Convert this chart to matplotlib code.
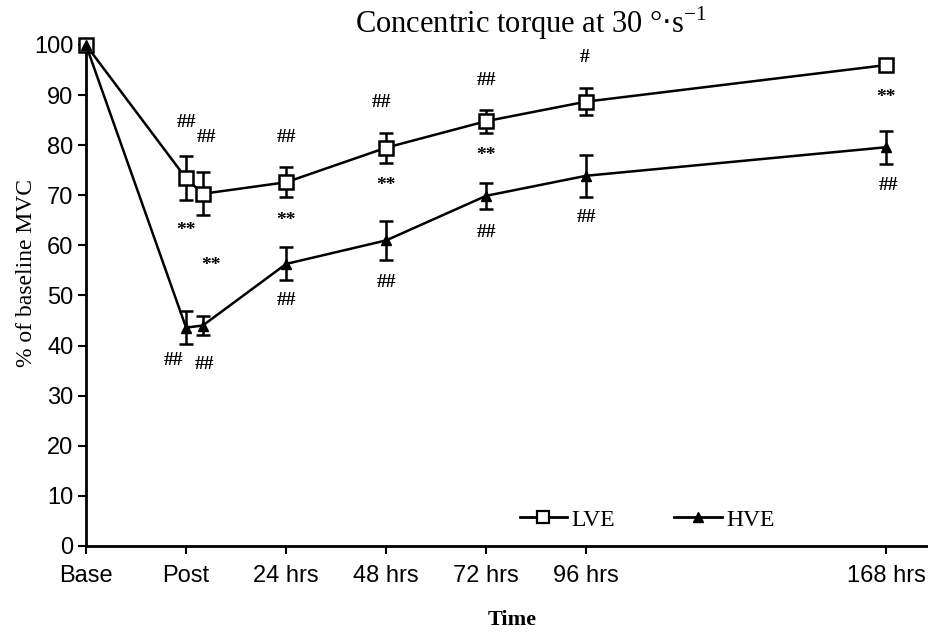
import numpy as np
import matplotlib
matplotlib.use("Agg")
import matplotlib.pyplot as plt
from matplotlib.lines import Line2D

# time points (hours; Base drawn one step before Post)
times = [-24, 0, 4, 24, 48, 72, 96, 168]
tick_pos = [-24, 0, 24, 48, 72, 96, 168]
tick_labels = ["Base", "Post", "24 hrs", "48 hrs", "72 hrs", "96 hrs", "168 hrs"]

# % of baseline MVC
LVE = [100, 73.4, 70.3, 72.6, 79.5, 84.8, 88.7, 96.0]
LVE_err = [0, 4.4, 4.3, 3.0, 3.0, 2.3, 2.7, 1.0]
HVE = [100, 43.6, 44.0, 56.3, 61.0, 69.9, 73.9, 79.6]
HVE_err = [0, 3.3, 1.9, 3.3, 3.9, 2.6, 4.2, 3.3]

# significance marks: (x, y, text)
marks = [
    (0, 84.5, "##"), (5, 81.5, "##"), (24, 81.5, "##"), (47, 88.5, "##"),
    (72, 93, "##"), (95.5, 97.5, "#"),
    (0, 63, "**"), (6, 56, "**"), (24, 65, "**"), (48, 72, "**"),
    (72, 78, "**"), (168, 89.5, "**"),
    (-3, 37, "##"), (4.5, 36.3, "##"), (24, 49, "##"), (48, 52.5, "##"),
    (72, 62.5, "##"), (96, 65.5, "##"), (168.5, 72, "##"),
]

fig = plt.figure(figsize=(9.29, 6.37), dpi=100)
ax = fig.add_axes([86 / 929, 1 - 546 / 637, 1 - 86 / 929 - 0.001, (546 - 45) / 637])

ax.errorbar(times, LVE, yerr=LVE_err, color="black", lw=1.8, marker="s",
            ms=10, mfc="white", mec="black", mew=1.8, capsize=5, elinewidth=1.8,
            capthick=1.8, clip_on=False, zorder=3)
ax.errorbar(times, HVE, yerr=HVE_err, color="black", lw=1.8, marker="^",
            ms=7, mfc="black", mec="black", capsize=5, elinewidth=1.8,
            capthick=1.8, clip_on=False, zorder=3)

for x, y, t in marks:
    ax.text(x, y, t, ha="center", va="center", fontsize=14,
            family="Liberation Serif", fontweight="bold")

ax.set_xlim(-24, 178)
ax.set_ylim(0, 100)
ax.set_yticks(np.arange(0, 101, 10))
ax.set_xticks(tick_pos)
ax.set_xticklabels(tick_labels)
for lab in ax.get_xticklabels() + ax.get_yticklabels():
    lab.set_family("Liberation Sans")
    lab.set_fontsize(17)
ax.tick_params(axis="both", direction="out", length=6, width=1.5, pad=3)
ax.tick_params(axis="x", pad=8)
ax.spines["top"].set_visible(False)
ax.spines["right"].set_visible(False)
ax.spines["left"].set_linewidth(2)
ax.spines["bottom"].set_linewidth(2)

ax.set_ylabel("% of baseline MVC", family="Liberation Serif", fontsize=17)
ax.yaxis.set_label_coords(-0.058, 0.545)
ax.set_xlabel("Time", family="Liberation Serif", fontsize=16, fontweight="bold")
ax.xaxis.set_label_coords(0.506, -0.128)
fig.text(0.572, 0.963, r"Concentric torque at 30 °$\cdot$s$^{\mathregular{-1}}$",
         ha="center", va="center", family="Liberation Serif", fontsize=22)

handles = [
    Line2D([], [], color="black", lw=2, marker="s", ms=8, mfc="white", mew=1.6),
    Line2D([], [], color="black", lw=2, marker="^", ms=7, mfc="black"),
]
ax.legend(handles, ["LVE", "HVE"], loc="center left", bbox_to_anchor=(0.49, 0.052),
          ncol=2, frameon=False, prop={"family": "Liberation Serif", "size": 17},
          handlelength=2.0, columnspacing=2.5, handletextpad=0.2)

plt.savefig("out.png", dpi=100)
